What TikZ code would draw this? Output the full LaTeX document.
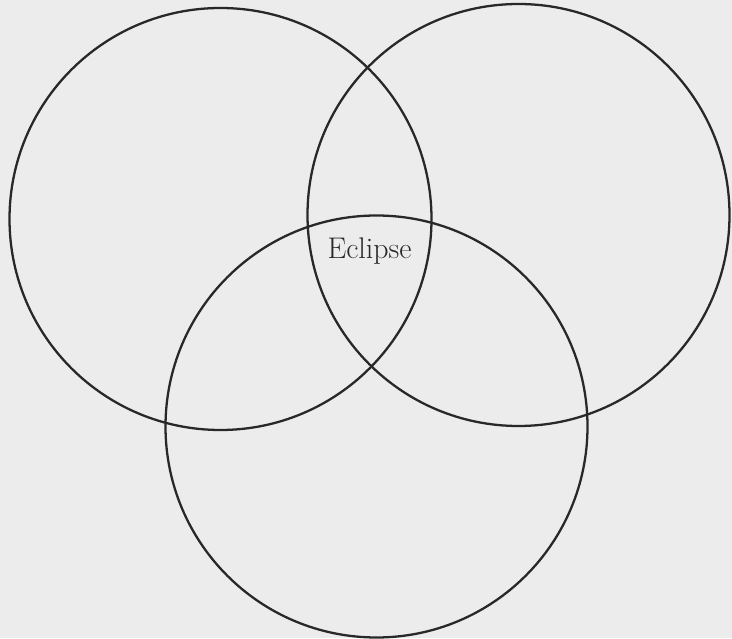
\documentclass[tikz,border=0pt]{standalone}
\usepackage{xcolor}
\usepackage{tikz}
\usetikzlibrary{positioning}

\definecolor{paper}{RGB}{236,236,236}
\definecolor{ink}{RGB}{40,40,40}

\begin{document}
\begin{tikzpicture}[
		ring/.style={draw=ink, line width=1.3pt, circle, inner sep=0pt, minimum size=8.44cm}
	]
		\fill[paper] (0,0) rectangle (14.64,12.76);
		\useasboundingbox (0,0) rectangle (14.64,12.76);

		\node[ring] (leftring) at (4.41,8.38) {};
		\node[ring] (rightring) at (10.37,8.46) {};
		\node[ring] (lowring) at (7.53,4.23) {};

		\node[anchor=base, text=ink, font=\fontsize{17}{20}\selectfont] (eclipse) at (7.39,7.58) {Eclipse};
	\end{tikzpicture}
\end{document}
